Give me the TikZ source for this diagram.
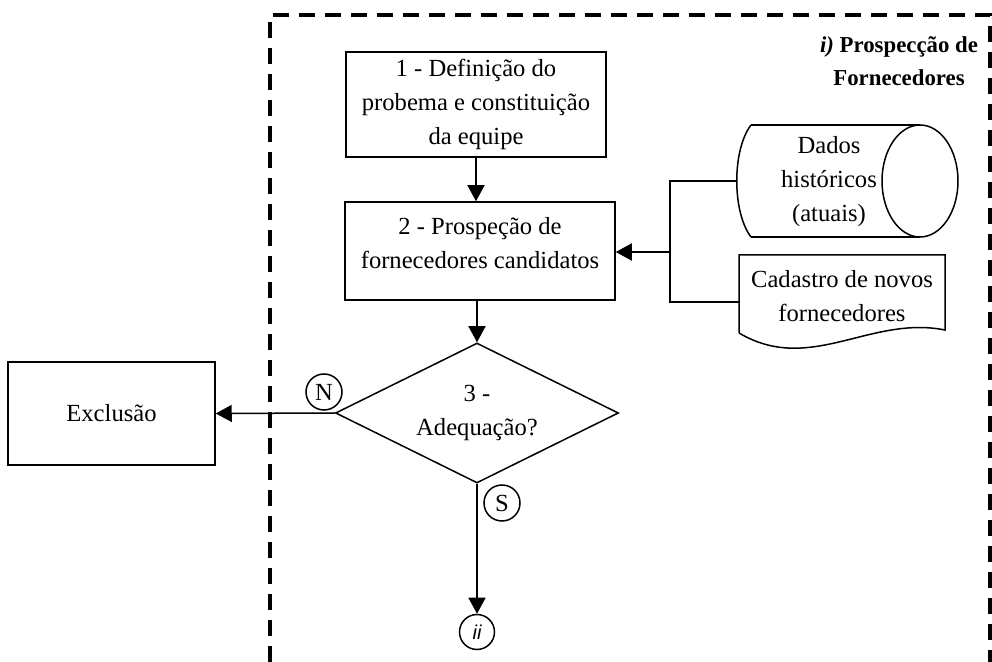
\documentclass[tikz,border=0pt]{standalone}
\usepackage{fontspec}
\setmainfont{Liberation Serif}
\newfontfamily\arialfont{Liberation Sans}
\usetikzlibrary{shapes.geometric,arrows.meta}

\begin{document}
\begin{tikzpicture}[x=0.5pt,y=-0.5pt,
	font=\fontsize{12.3}{17}\selectfont,
	caixa/.style={draw,line width=0.75pt,align=center,inner sep=0pt},
	seta/.style={line width=0.75pt,-{Triangle[length=8pt,width=8.5pt]}},
	linha/.style={line width=0.75pt},
	letra/.style={draw,circle,line width=0.75pt,inner sep=0pt,minimum size=18pt}]
			\useasboundingbox (0,0) rectangle (992,662);
			
			\draw[line width=2pt,dash pattern=on 8pt off 5pt] (270,662) -- (270,15) -- (990,15) -- (990,662);
			\node[align=center,font=\fontsize{11.4}{16.5}\selectfont\bfseries] (titulo) at (899,61) {\textit{i)} Prospecção de\\Fornecedores};
			
			\node[caixa,minimum width=130pt,minimum height=52.5pt] (definicao) at (476,104.5) {1 - Definição do\\probema e constituição\\da equipe};
			\node[caixa,minimum width=135pt,minimum height=49pt] (prospeccao) at (480,251) {};
			\node[align=center] (prospeccaotxt) at (480,243) {2 - Prospeção de\\fornecedores candidatos};
			\node[caixa,shape=diamond,aspect=2,minimum width=141.5pt,minimum height=70pt] (adequacao) at (477,413) {3 -\\Adequação?};
			\node[caixa,minimum width=103.5pt,minimum height=51.5pt] (exclusao) at (111.5,413.5) {Exclusão};
			
			\node[letra] (nao) at (324,392) {N};
			\node[letra] (sim) at (502,503) {S};
			\node[letra,minimum size=17.5pt,font=\arialfont\itshape\fontsize{10}{12}\selectfont] (proxima) at (477,632) {ii};
			
			\draw[linha] (751,125) -- (920,125) (751,237) -- (920,237);
			\draw[linha] (751,125) .. controls (732,150) and (732,212) .. (751,237);
			\draw[linha] (920,181) ellipse [x radius=38,y radius=56];
			\node[align=center] (dados) at (829,182) {Dados\\históricos\\(atuais)};
			\coordinate (dadosW) at (737,181);
			
			\draw[linha] (739,333) -- (739,255) -- (945,255) -- (945,330) .. controls (870,315) and (810,375) .. (739,333);
			\node[align=center] (cadastro) at (842,296) {Cadastro de novos\\fornecedores};
			\coordinate (cadastroW) at (739,302);
			
			\coordinate (juncao) at (670,252);
			\draw[linha] (dadosW) -| (juncao) |- (cadastroW);
			\draw[seta] (juncao) -- (juncao -| prospeccao.east);
			
			\draw[seta] (definicao.south) -- (definicao.south |- prospeccao.north);
			\draw[seta] (prospeccao.south -| adequacao.north) -- (adequacao.north);
			\draw[seta] (adequacao.west) -- (exclusao.east);
			\draw[seta] (adequacao.south) -- (proxima.north);
			\end{tikzpicture}
\end{document}
